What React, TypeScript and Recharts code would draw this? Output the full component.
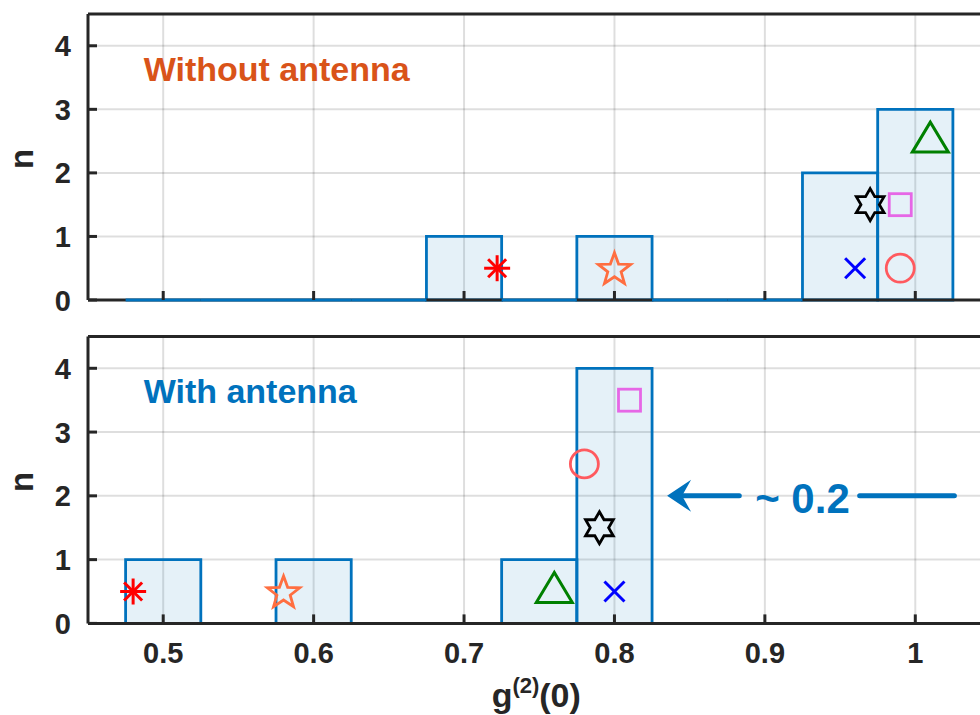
import React from 'react';
import {
  ComposedChart,
  XAxis,
  YAxis,
  CartesianGrid,
  ReferenceArea,
  ReferenceLine,
  ReferenceDot,
  Scatter,
  Label,
} from 'recharts';

// histogram bins (g2(0) bin centers) and counts per panel
const binCenters = [0.5, 0.55, 0.6, 0.65, 0.7, 0.75, 0.8, 0.85, 0.9, 0.95, 1.0];
const binWidth = 0.05;
const countsWithout = [0, 0, 0, 0, 1, 0, 1, 0, 0, 2, 3];
const countsWith = [1, 0, 1, 0, 0, 1, 4, 0, 0, 0, 0];

// individual emitters, one marker each
const markerKinds = ['asterisk', 'pentagram', 'cross', 'hexagram', 'square', 'circle', 'triangle'];
const g2Without = [0.722, 0.8, 0.96, 0.97, 0.99, 0.99, 1.01];
const nWithout = [0.5, 0.5, 0.5, 1.5, 1.5, 0.5, 2.5];
const g2With = [0.48, 0.58, 0.8, 0.79, 0.81, 0.78, 0.76];
const nWith = [0.5, 0.5, 0.5, 1.5, 3.5, 2.5, 0.5];

const xDomain = [0.45, 1.05];
const yDomain = [0, 4.5];
const xTicks = [0.5, 0.6, 0.7, 0.8, 0.9, 1];
const xTickLabels = ['0.5', '0.6', '0.7', '0.8', '0.9', '1'];
const yTicks = [0, 1, 2, 3, 4];

const FONT = '"Liberation Sans", Arial, Helvetica, sans-serif';
const AXIS = '#262626';
const BLUE = '#0072bd';
const ORANGE = '#d95319';

const markerColor: Record<string, string> = {
  asterisk: '#ff0000',
  pentagram: '#ff6e40',
  cross: '#0000ff',
  hexagram: '#000000',
  square: '#e667e6',
  circle: '#ff5a5f',
  triangle: '#008000',
};

function starPoints(cx: number, cy: number, n: number, ro: number, ri: number) {
  const pts: string[] = [];
  for (let i = 0; i < n * 2; i++) {
    const r = i % 2 === 0 ? ro : ri;
    const a = -Math.PI / 2 + (i * Math.PI) / n;
    pts.push(`${cx + r * Math.cos(a)},${cy + r * Math.sin(a)}`);
  }
  return pts.join(' ');
}

function Glyph({ kind, cx, cy }: { kind: string; cx: number; cy: number }) {
  const c = markerColor[kind];
  const sw = 2.8;
  switch (kind) {
    case 'asterisk':
      return (
        <g stroke={c} strokeWidth={3}>
          <line x1={cx - 13} y1={cy} x2={cx + 13} y2={cy} />
          <line x1={cx} y1={cy - 13} x2={cx} y2={cy + 13} />
          <line x1={cx - 9} y1={cy - 9} x2={cx + 9} y2={cy + 9} />
          <line x1={cx - 9} y1={cy + 9} x2={cx + 9} y2={cy - 9} />
        </g>
      );
    case 'pentagram':
      return <polygon points={starPoints(cx, cy + 1.5, 5, 17, 7)} fill="none" stroke={c} strokeWidth={sw} />;
    case 'hexagram':
      return <polygon points={starPoints(cx, cy, 6, 16, 9.2)} fill="none" stroke={c} strokeWidth={sw} />;
    case 'cross':
      return (
        <g stroke={c} strokeWidth={3}>
          <line x1={cx - 10} y1={cy - 10} x2={cx + 10} y2={cy + 10} />
          <line x1={cx - 10} y1={cy + 10} x2={cx + 10} y2={cy - 10} />
        </g>
      );
    case 'square':
      return <rect x={cx - 11} y={cy - 11} width={22} height={22} fill="none" stroke={c} strokeWidth={sw} />;
    case 'circle':
      return <circle cx={cx} cy={cy} r={14} fill="none" stroke={c} strokeWidth={sw} />;
    default:
      return (
        <polygon
          points={`${cx},${cy - 19} ${cx - 18},${cy + 11} ${cx + 18},${cy + 11}`}
          fill="none"
          stroke={c}
          strokeWidth={3}
        />
      );
  }
}

// inward tick marks, labels outside
const BottomTick = (props: any) => {
  const { x, y, payload, showLabel } = props;
  const i = xTicks.indexOf(payload.value);
  return (
    <g>
      <line x1={x} y1={y} x2={x} y2={y - 9} stroke={AXIS} strokeWidth={3} />
      {showLabel && (
        <text x={x} y={y + 40} textAnchor="middle" fontSize={29} fontWeight={700} fill={AXIS} fontFamily={FONT}>
          {xTickLabels[i] ?? String(payload.value)}
        </text>
      )}
    </g>
  );
};

const TopTick = (props: any) => {
  const { x, y } = props;
  return <line x1={x} y1={y} x2={x} y2={y + 9} stroke={AXIS} strokeWidth={3} />;
};

const LeftTick = (props: any) => {
  const { x, y, payload } = props;
  return (
    <g>
      <line x1={x} y1={y} x2={x + 9} y2={y} stroke={AXIS} strokeWidth={3} />
      <text x={x - 17} y={y + 10.5} textAnchor="end" fontSize={29} fontWeight={700} fill={AXIS} fontFamily={FONT}>
        {payload.value}
      </text>
    </g>
  );
};

const YLabel = (props: any) => {
  const vb = props.viewBox || {};
  const cy = vb.y + vb.height / 2 + 2;
  return (
    <text
      x={33}
      y={cy}
      transform={`rotate(-90, 33, ${cy})`}
      textAnchor="middle"
      fontSize={33}
      fontWeight={700}
      fill={AXIS}
      fontFamily={FONT}
    >
      n
    </text>
  );
};

const XLabel = (props: any) => {
  const vb = props.viewBox || {};
  const cx = vb.x + vb.width / 2 - 3;
  return (
    <text x={cx} y={vb.y + 84} textAnchor="middle" fontSize={34} fontWeight={700} fill={AXIS} fontFamily={FONT}>
      <tspan>g</tspan>
      <tspan fontSize={22} dy={-14}>
        (2)
      </tspan>
      <tspan dy={14}>(0)</tspan>
    </text>
  );
};

interface PanelProps {
  counts: number[];
  g2: number[];
  n: number[];
  title: string;
  titleColor: string;
  height: number;
  margin: { top: number; right: number; bottom: number; left: number };
  showXLabels: boolean;
  zeroLine: boolean;
  arrow: boolean;
}

function Panel({ counts, g2, n, title, titleColor, height, margin, showXLabels, zeroLine, arrow }: PanelProps) {
  return (
    <ComposedChart width={1010} height={height} margin={margin}>
      <CartesianGrid stroke="#000" strokeOpacity={0.13} strokeWidth={2} />
      <XAxis
        dataKey="x"
        type="number"
        domain={xDomain}
        ticks={xTicks}
        interval={0}
        height={showXLabels ? 60 : 1}
        tick={(p: any) => <BottomTick {...p} showLabel={showXLabels} />}
        tickSize={0}
        tickMargin={0}
        tickLine={false}
        axisLine={false}
      >
        {showXLabels && <Label content={XLabel} />}
      </XAxis>
      <XAxis
        xAxisId="top"
        orientation="top"
        type="number"
        domain={xDomain}
        ticks={xTicks}
        interval={0}
        height={0}
        tick={TopTick}
        tickSize={0}
        tickMargin={0}
        tickLine={false}
        axisLine={false}
      />
      <YAxis
        dataKey="y"
        type="number"
        domain={yDomain}
        ticks={yTicks}
        interval={0}
        width={70}
        tick={LeftTick}
        tickSize={0}
        tickMargin={0}
        tickLine={false}
        axisLine={false}
      >
        <Label content={YLabel} />
      </YAxis>

      {binCenters.map((c, i) =>
        counts[i] > 0 ? (
          <ReferenceArea
            key={`bin-${i}`}
            x1={c - binWidth / 2}
            x2={c + binWidth / 2}
            y1={0}
            y2={counts[i]}
            fill={BLUE}
            fillOpacity={0.1}
            stroke={BLUE}
            strokeWidth={2.8}
            strokeOpacity={1}
          />
        ) : null,
      )}

      {/* axes box */}
      <ReferenceLine x={xDomain[0]} stroke={AXIS} strokeWidth={3} />
      <ReferenceLine y={yDomain[0]} stroke={AXIS} strokeWidth={3} />
      <ReferenceLine y={yDomain[1]} stroke={AXIS} strokeWidth={3} />

      {zeroLine &&
        binCenters.map((c, i) =>
          counts[i] === 0 ? (
            <ReferenceLine
              key={`zero-${i}`}
              segment={[
                { x: c - binWidth / 2, y: 0 },
                { x: c + binWidth / 2, y: 0 },
              ]}
              stroke={BLUE}
              strokeWidth={3}
            />
          ) : null,
        )}

      <ReferenceDot
        x={0.487}
        y={3.45}
        r={0}
        shape={(p: any) => (
          <text x={p.cx} y={p.cy} fontSize={34} fontWeight={700} fill={titleColor} fontFamily={FONT}>
            {title}
          </text>
        )}
      />

      {arrow && (
        <ReferenceLine
          segment={[
            { x: 0.84, y: 2 },
            { x: 0.883, y: 2 },
          ]}
          stroke={BLUE}
          strokeWidth={5}
          strokeLinecap="round"
        />
      )}
      {arrow && (
        <ReferenceLine
          segment={[
            { x: 0.963, y: 2 },
            { x: 1.026, y: 2 },
          ]}
          stroke={BLUE}
          strokeWidth={5}
          strokeLinecap="round"
        />
      )}
      {arrow && (
        <ReferenceDot
          x={0.835}
          y={2}
          r={0}
          shape={(p: any) => (
            <path
              d={`M${p.cx},${p.cy} L${p.cx + 24},${p.cy - 16} L${p.cx + 15},${p.cy} L${p.cx + 24},${p.cy + 16} Z`}
              fill={BLUE}
            />
          )}
        />
      )}
      {arrow && (
        <ReferenceDot
          x={0.925}
          y={1.73}
          r={0}
          shape={(p: any) => (
            <text x={p.cx} y={p.cy} textAnchor="middle" fontSize={42} fontWeight={700} fill={BLUE} fontFamily={FONT}>
              ~ 0.2
            </text>
          )}
        />
      )}

      {markerKinds.map((kind, i) => (
        <Scatter
          key={kind}
          data={[{ x: g2[i], y: n[i] }]}
          isAnimationActive={false}
          shape={(p: any) => <Glyph kind={kind} cx={p.cx} cy={p.cy} />}
        />
      ))}
    </ComposedChart>
  );
}

export default function App() {
  return (
    <div
      style={{
        position: 'absolute',
        left: 0,
        top: 0,
        width: 980,
        height: 715,
        overflow: 'hidden',
        background: '#fff',
        fontFamily: FONT,
      }}
    >
      <div style={{ position: 'absolute', left: 0, top: 0 }}>
        <Panel
          counts={countsWithout}
          g2={g2Without}
          n={nWithout}
          title="Without antenna"
          titleColor={ORANGE}
          height={318}
          margin={{ top: 14, right: 19.5, bottom: 17, left: 18 }}
          showXLabels={false}
          zeroLine
          arrow={false}
        />
      </div>
      <div style={{ position: 'absolute', left: 0, top: 318 }}>
        <Panel
          counts={countsWith}
          g2={g2With}
          n={nWith}
          title="With antenna"
          titleColor={BLUE}
          height={397}
          margin={{ top: 18.4, right: 19.5, bottom: 31.6, left: 18 }}
          showXLabels
          zeroLine={false}
          arrow
        />
      </div>
    </div>
  );
}
